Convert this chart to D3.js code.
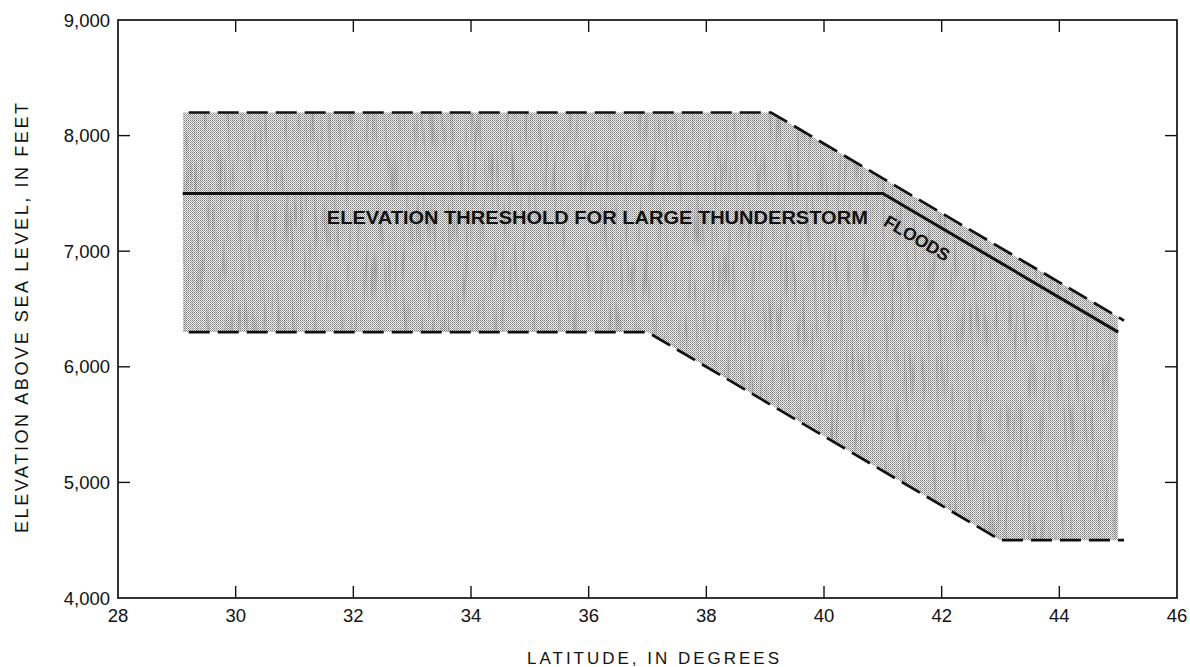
<!DOCTYPE html>
<html>
<head>
<meta charset="utf-8">
<script src="https://cdn.jsdelivr.net/npm/d3@7"></script>
<style>
  html, body { margin: 0; padding: 0; background: #fff; }
  svg { display: block; font-family: "Liberation Sans", Arial, Helvetica, sans-serif; }
</style>
</head>
<body>
<svg id="chart" width="1190" height="667"></svg>
<script>
// Envelope of elevation limits by latitude
const upperLat = [29.1, 39.1, 45.1];
const upperElev = [8200, 8200, 6400];
const lowerLat = [29.1, 37, 43, 45.1];
const lowerElev = [6300, 6300, 4500, 4500];
// Elevation threshold for large thunderstorm floods
const thresholdLat = [29.1, 41, 45];
const thresholdElev = [7500, 7500, 6300];
// Shaded band extent (latitude)
const shadeRange = [29.1, 45];

const xTicks = [28, 30, 32, 34, 36, 38, 40, 42, 44, 46];
const yTicks = [4000, 5000, 6000, 7000, 8000, 9000];

const svg = d3.select("#chart");
const x = d3.scaleLinear().domain([28, 46]).range([118, 1177]);
const y = d3.scaleLinear().domain([4000, 9000]).range([598, 20]);

const defs = svg.append("defs");
// Fine dot screen for the shaded band
const pat = defs.append("pattern")
  .attr("id", "stipple").attr("patternUnits", "userSpaceOnUse")
  .attr("width", 2).attr("height", 2);
pat.append("rect").attr("width", 2).attr("height", 2).attr("fill", "#eeeeee");
pat.append("rect").attr("x", 0).attr("y", 0).attr("width", 1).attr("height", 1).attr("fill", "#7e7e7e");
pat.append("rect").attr("x", 1).attr("y", 1).attr("width", 1).attr("height", 1).attr("fill", "#a4a4a4");

// Mottled grain with vertical streaks
const grain = defs.append("filter").attr("id", "grain")
  .attr("x", 0).attr("y", 0).attr("width", 1).attr("height", 1);
grain.append("feTurbulence")
  .attr("type", "fractalNoise").attr("baseFrequency", "0.35 0.02")
  .attr("numOctaves", 2).attr("seed", 7).attr("result", "n");
grain.append("feColorMatrix").attr("in", "n").attr("type", "matrix")
  .attr("values", "0 0 0 0 0  0 0 0 0 0  0 0 0 0 0  -1.6 0 0 0 0.75");
grain.append("feComposite").attr("in2", "SourceGraphic").attr("operator", "in");

defs.append("clipPath").attr("id", "bandClip")
  .append("rect")
  .attr("x", x(shadeRange[0])).attr("y", y(9000))
  .attr("width", x(shadeRange[1]) - x(shadeRange[0]))
  .attr("height", y(4000) - y(9000));

const upperPts = upperLat.map((d, i) => [d, upperElev[i]]);
const lowerPts = lowerLat.map((d, i) => [d, lowerElev[i]]);
const thrPts = thresholdLat.map((d, i) => [d, thresholdElev[i]]);

const line = d3.line().x(d => x(d[0])).y(d => y(d[1]));
const bandPath = line(upperPts.concat(lowerPts.slice().reverse())) + "Z";

// Shaded band between the upper and lower dashed limits
const band = svg.append("g").attr("clip-path", "url(#bandClip)");
band.append("path")
  .attr("d", bandPath)
  .attr("fill", "url(#stipple)");
band.append("path")
  .attr("d", bandPath)
  .attr("fill", "#000")
  .attr("opacity", 0.35)
  .attr("filter", "url(#grain)");

// Dashed limits
[upperPts, lowerPts].forEach(pts => {
  svg.append("path")
    .attr("d", line(pts))
    .attr("fill", "none")
    .attr("stroke", "#111")
    .attr("stroke-width", 2.7)
    .attr("stroke-dasharray", "21,8")
    .attr("stroke-dashoffset", 23);
});

// Threshold line
svg.append("path")
  .attr("d", line(thrPts))
  .attr("fill", "none")
  .attr("stroke", "#111")
  .attr("stroke-width", 3);

// Frame
svg.append("rect")
  .attr("x", x(28)).attr("y", y(9000))
  .attr("width", x(46) - x(28)).attr("height", y(4000) - y(9000))
  .attr("fill", "none").attr("stroke", "#111").attr("stroke-width", 1.7);

// Inward ticks on all four sides
const tl = 12;
const tickG = svg.append("g").attr("stroke", "#111").attr("stroke-width", 1.4);
xTicks.slice(1, -1).forEach(t => {
  tickG.append("line").attr("x1", x(t)).attr("x2", x(t)).attr("y1", y(4000)).attr("y2", y(4000) - tl);
  tickG.append("line").attr("x1", x(t)).attr("x2", x(t)).attr("y1", y(9000)).attr("y2", y(9000) + tl);
});
yTicks.slice(1, -1).forEach(t => {
  tickG.append("line").attr("y1", y(t)).attr("y2", y(t)).attr("x1", x(28)).attr("x2", x(28) + tl);
  tickG.append("line").attr("y1", y(t)).attr("y2", y(t)).attr("x1", x(46)).attr("x2", x(46) - tl);
});

// Tick labels
const fmt = d3.format(",");
svg.append("g").selectAll("text").data(yTicks).join("text")
  .attr("x", 110).attr("y", d => y(d))
  .attr("dy", "0.36em")
  .attr("text-anchor", "end")
  .attr("font-size", 18.5)
  .attr("fill", "#111")
  .text(d => fmt(d));

svg.append("g").selectAll("text").data(xTicks).join("text")
  .attr("x", d => x(d)).attr("y", 622)
  .attr("text-anchor", "middle")
  .attr("font-size", 18.5)
  .attr("fill", "#111")
  .text(d => d);

// Axis titles
svg.append("text")
  .attr("x", 653).attr("y", 664)
  .attr("text-anchor", "middle")
  .attr("font-size", 17)
  .attr("textLength", 252)
  .attr("lengthAdjust", "spacing")
  .attr("fill", "#111")
  .text("LATITUDE, IN DEGREES");

svg.append("text")
  .attr("transform", "translate(28,318) rotate(-90)")
  .attr("text-anchor", "middle")
  .attr("font-size", 18)
  .attr("textLength", 430)
  .attr("lengthAdjust", "spacing")
  .attr("fill", "#111")
  .text("ELEVATION ABOVE SEA LEVEL, IN FEET");

// Line label
svg.append("text")
  .attr("x", x(31.55)).attr("y", y(7500) + 31)
  .attr("font-size", 17.5)
  .attr("font-weight", "bold")
  .attr("textLength", 541)
  .attr("lengthAdjust", "spacingAndGlyphs")
  .attr("fill", "#111")
  .text("ELEVATION THRESHOLD FOR LARGE THUNDERSTORM");

const ang = Math.atan2(y(6300) - y(7500), x(45) - x(41)) * 180 / Math.PI;
svg.append("text")
  .attr("transform", `translate(${x(41.53)},${y(7500) + 50}) rotate(${ang})`)
  .attr("text-anchor", "middle")
  .attr("font-size", 17.5)
  .attr("font-weight", "bold")
  .attr("fill", "#111")
  .text("FLOODS");
</script>
</body>
</html>
